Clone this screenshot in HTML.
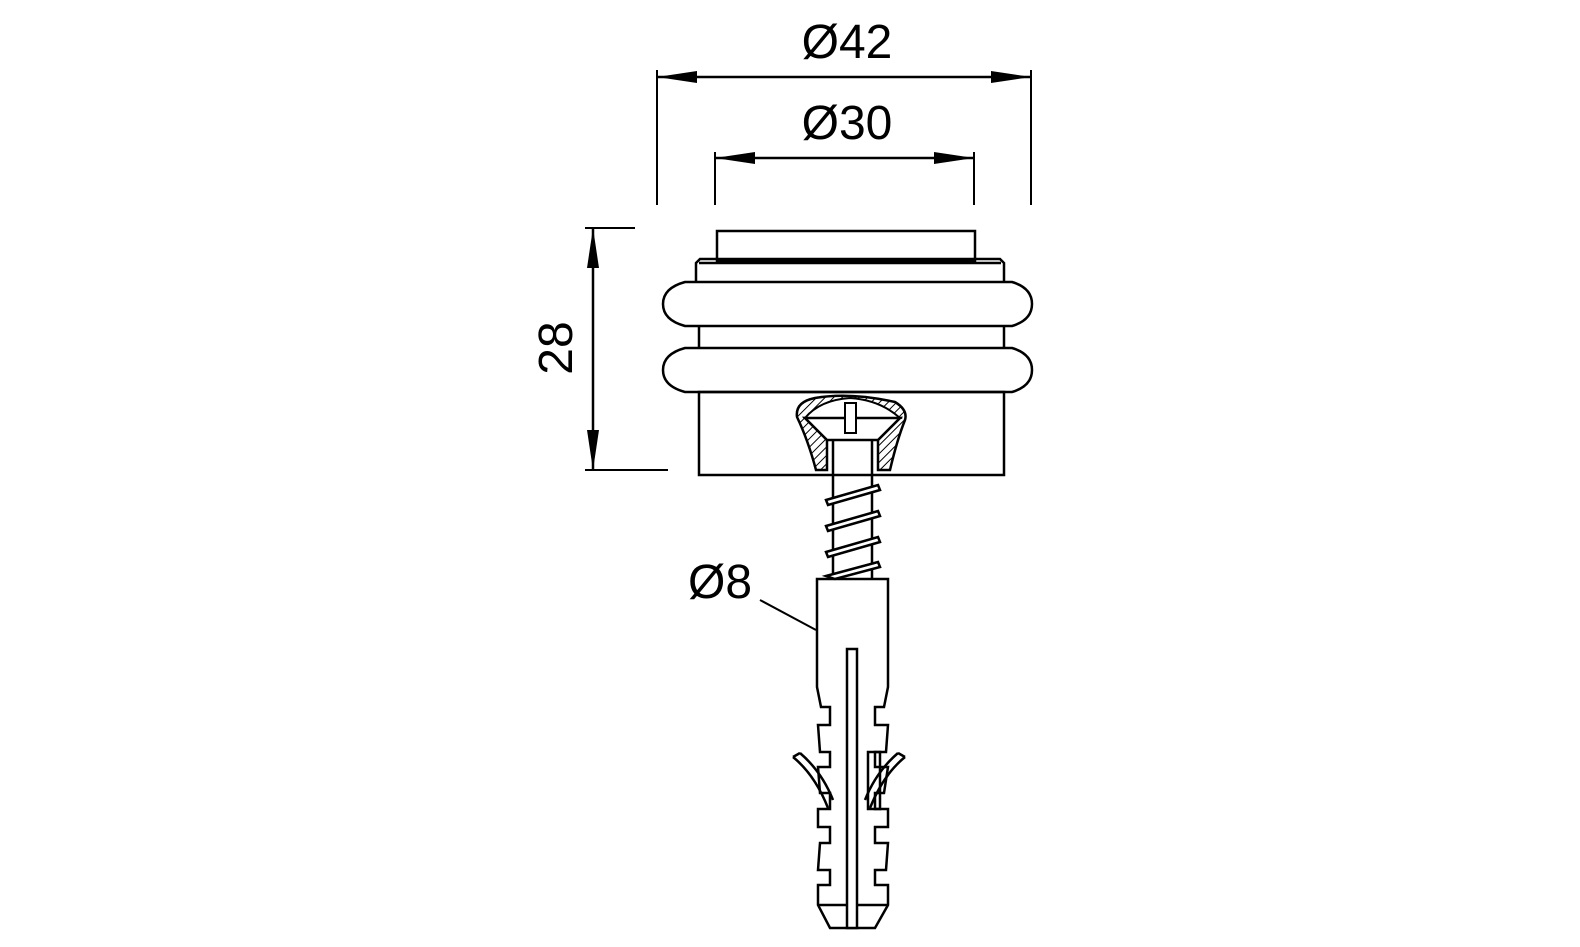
<!DOCTYPE html>
<html><head><meta charset="utf-8"><style>html,body{margin:0;padding:0;background:#fff}svg{display:block}</style></head>
<body>
<svg width="1580" height="947" viewBox="0 0 1580 947" xmlns="http://www.w3.org/2000/svg">
<defs>
<pattern id="h" width="6" height="6" patternUnits="userSpaceOnUse" patternTransform="rotate(45)"><line x1="0" y1="0" x2="0" y2="6" stroke="#000" stroke-width="2"/></pattern>
</defs>
<g fill="none" stroke="#000" stroke-width="2.5">
<!-- dims -->
<line x1="657" y1="70" x2="657" y2="205" stroke-width="2"/>
<line x1="1031" y1="70" x2="1031" y2="205" stroke-width="2"/>
<line x1="657" y1="77" x2="1031" y2="77"/>
<line x1="715" y1="152" x2="715" y2="205" stroke-width="2"/>
<line x1="974" y1="152" x2="974" y2="205" stroke-width="2"/>
<line x1="715" y1="158" x2="974" y2="158"/>
<line x1="585" y1="228" x2="635" y2="228" stroke-width="2"/>
<line x1="585" y1="470" x2="668" y2="470" stroke-width="2"/>
<line x1="593" y1="228" x2="593" y2="470"/>
<!-- body -->
<rect x="717" y="231" width="258" height="30"/>
<path d="M696 282 V263 L700 259 H1000 L1004 263 V282"/>
<line x1="699" y1="263" x2="1001" y2="263"/>
<path d="M685 282 H1012 Q1032 288 1032 304 Q1032 320 1012 326 H685 Q663 320 663 304 Q663 288 685 282 Z"/>
<path d="M685 348 H1012 Q1032 354 1032 370 Q1032 386 1012 392 H685 Q663 386 663 370 Q663 354 685 348 Z"/>
<line x1="699" y1="326" x2="699" y2="348"/>
<line x1="1004" y1="326" x2="1004" y2="348"/>
<rect x="699" y="392" width="305" height="83"/>
</g>
<!-- screw head -->
<path d="M797 417 Q795 402 815 398 Q850 392 895 402 Q908 410 905 420 Q897 440 890 470 H878 V440 L900 418 H805 L827 440 V470 H816 Q808 440 797 417 Z" fill="url(#h)" stroke="#000" stroke-width="2.5"/>
<path d="M805 418 Q820 400 850 398 Q880 400 900 418 Z" fill="#fff" stroke="#000" stroke-width="2"/>
<path d="M805 418 H900 L878 440 H827 Z" fill="#fff" stroke="#000" stroke-width="2.5"/>
<rect x="845" y="403" width="11" height="30" fill="#fff" stroke="#000" stroke-width="2"/>
<g fill="none" stroke="#000" stroke-width="2.5">
<line x1="833" y1="440" x2="833" y2="580"/>
<line x1="872" y1="440" x2="872" y2="580"/>
</g>
<g fill="#fff" stroke="#000" stroke-width="2.5">
<path d="M826 500 L878 485 L880 490 L828 505 Z"/>
<path d="M826 526 L878 511 L880 516 L828 531 Z"/>
<path d="M826 552 L878 537 L880 542 L828 557 Z"/>
<path d="M826 576 L878 562 L880 567 L835 579 Z"/>
</g>
<!-- dowel -->
<g fill="none" stroke="#000" stroke-width="2.5">
<path d="M817 579 H888 V687 L884 707 H875 V725 H888 L886 752 H875 V767 H888 L884 793 H875 V809 H888 V827 H875 V843 H888 L886 870 H875 V885 H888 V905 L875 928 H830 L818 905 V885 H830 V870 H818 L820 843 H830 V827 H818 V809 H830 V793 H820 L818 767 H830 V752 H820 L818 725 H830 V707 H821 L817 687 Z"/>
<path d="M818 905 H888"/>
<rect x="847" y="649" width="10" height="279" fill="#fff"/>
<path d="M868 752 H880 V809 H868 Z"/>
<path d="M793 757 Q815 775 828 808 M800 753 Q822 772 833 800"/>
<path d="M793 757 L800 753"/>
<path d="M905 757 Q883 775 870 808 M898 753 Q876 772 865 800"/>
<path d="M905 757 L898 753"/>
<line x1="760" y1="600" x2="816" y2="630" stroke-width="2"/>
</g>
<!-- arrows -->
<g fill="#000">
<path d="M657 77 L697 71 L697 83 Z"/>
<path d="M1031 77 L991 71 L991 83 Z"/>
<path d="M715 158 L755 152 L755 164 Z"/>
<path d="M974 158 L934 152 L934 164 Z"/>
<path d="M593 228 L587 268 L599 268 Z"/>
<path d="M593 470 L587 430 L599 430 Z"/>
</g>
<g font-family="Liberation Sans, sans-serif" font-size="48" fill="#000" text-anchor="middle">
<text x="847" y="58">Ø42</text>
<text x="847" y="139">Ø30</text>
<text x="720" y="598">Ø8</text>
<text transform="translate(572 348) rotate(-90)">28</text>
</g>
</svg>
</body></html>
